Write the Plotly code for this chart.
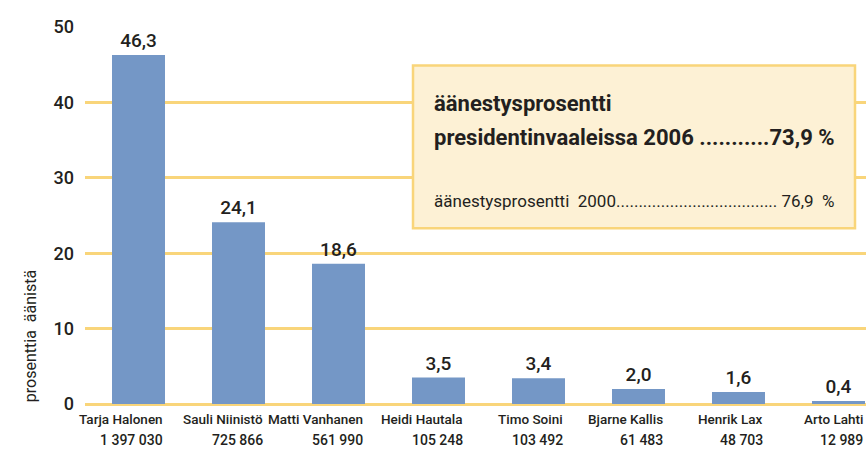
import plotly.graph_objects as go

candidates = ["Tarja Halonen", "Sauli Niinistö", "Matti Vanhanen", "Heidi Hautala",
              "Timo Soini", "Bjarne Kallis", "Henrik Lax", "Arto Lahti"]
percent = [46.3, 24.1, 18.6, 3.5, 3.4, 2.0, 1.6, 0.4]
votes = [1397030, 725866, 561990, 105248, 103492, 61483, 48703, 12989]
y_ticks = [0, 10, 20, 30, 40, 50]
turnout_2006 = 73.9
turnout_2000 = 76.9

FONT = "Roboto, Arial, sans-serif"
TXT = "#231f20"
GRID = "#f9d57a"
BAR = "#7497c6"


def fi(v, nd=1):
    return f"{v:.{nd}f}".replace(".", ",")


def fmt(n):
    return f"{n:,}".replace(",", " ")


x = list(range(len(candidates)))
fig = go.Figure()
fig.add_trace(go.Bar(
    x=x, y=percent, width=0.53, marker=dict(color=BAR, line=dict(width=0)),
    texttemplate="%{y:.1f}", textposition="outside", cliponaxis=False,
    textfont=dict(family=FONT, size=19, color=TXT, weight=500),
))

ann = []
for i, (c, v) in enumerate(zip(candidates, votes)):
    ann.append(dict(x=i + 0.265, xref="x", y=-0.012, yref="paper", xanchor="right", yanchor="top",
                    text=c, showarrow=False,
                    font=dict(family=FONT, size=13.5, color=TXT, weight=500)))
    ann.append(dict(x=i + 0.265, xref="x", y=-0.068, yref="paper", xanchor="right", yanchor="top",
                    text=fmt(v), showarrow=False,
                    font=dict(family=FONT, size=14, color=TXT, weight=500)))

# y axis title
ann.append(dict(text="prosenttia  äänistä", textangle=-90, xref="paper", yref="paper",
                x=0, xshift=-55, y=0.18, xanchor="center", yanchor="middle", showarrow=False,
                font=dict(family=FONT, size=16, color=TXT)))

# turnout box texts
ann.append(dict(text="<b>äänestysprosentti</b>", xref="x", yref="y", x=2.93, y=39.8,
                xanchor="left", yanchor="middle", showarrow=False,
                font=dict(family=FONT, size=22, color=TXT)))
ann.append(dict(text=f"<b>presidentinvaaleissa 2006 ...........{fi(turnout_2006)} %</b>",
                xref="x", yref="y", x=2.93, y=35.3, xanchor="left", yanchor="middle", showarrow=False,
                font=dict(family=FONT, size=22, color=TXT)))
ann.append(dict(text=f"äänestysprosentti  2000.................................... {fi(turnout_2000)}  %",
                xref="x", yref="y", x=2.93, y=26.9, xanchor="left", yanchor="middle", showarrow=False,
                font=dict(family=FONT, size=17, color=TXT)))

fig.update_layout(
    width=866, height=451,
    margin=dict(l=85, r=0, t=27, b=47),
    paper_bgcolor="white", plot_bgcolor="white",
    separators=", ",
    showlegend=False,
    xaxis=dict(range=[-0.535, 7.275], showticklabels=False, showgrid=False, zeroline=False,
               ticks="", fixedrange=True),
    yaxis=dict(range=[0, 50], tickvals=y_ticks, showgrid=True, gridcolor=GRID, gridwidth=2.5,
               zeroline=True, zerolinecolor=GRID, zerolinewidth=2.5, ticks="", ticklabelstandoff=10,
               tickfont=dict(family=FONT, size=18, color=TXT, weight=500)),
    annotations=ann,
    shapes=[dict(type="rect", xref="x", yref="y", x0=2.745, x1=7.165, y0=23.3, y1=44.9,
                 fillcolor="#fdf1d5", line=dict(color=GRID, width=2.5), layer="above")],
)
fig.write_html(
    "out.html",
    config={"displayModeBar": False},
    post_script="document.body.style.margin='0';document.body.style.overflow='hidden';",
)
